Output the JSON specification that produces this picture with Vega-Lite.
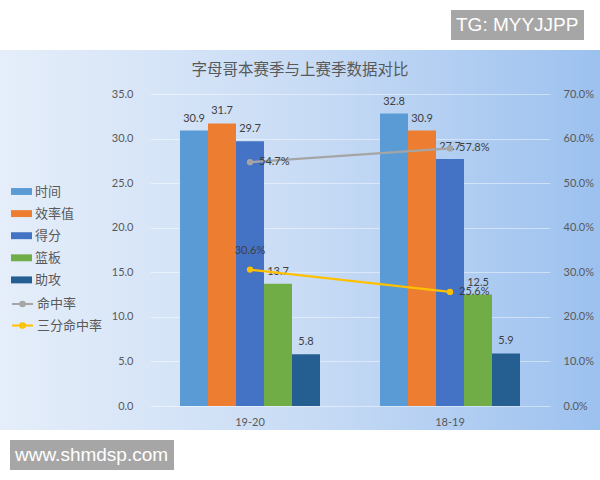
{
  "$schema": "https://vega.github.io/schema/vega-lite/v6.json",
  "width": 600,
  "height": 380,
  "autosize": {"type": "none"},
  "padding": {"left": 0, "top": 50, "right": 0, "bottom": 50},
  "background": "white",
  "view": {
    "stroke": null,
    "fill": {
      "gradient": "linear",
      "x1": 0, "y1": 0, "x2": 1, "y2": 0,
      "stops": [
        {"offset": 0, "color": "#e5eefa"},
        {"offset": 0.5, "color": "#c9dcf5"},
        {"offset": 1, "color": "#9cc1ef"}
      ]
    }
  },
  "title": {
    "text": "字母哥本赛季与上赛季数据对比",
    "anchor": "middle",
    "frame": "group",
    "orient": "top",
    "offset": 0,
    "dy": 75,
    "baseline": "middle",
    "font": "Noto Sans CJK SC",
    "fontSize": 15.5,
    "fontWeight": "normal",
    "color": "#595959"
  },
  "config": {"font": "Lato"},
  "datasets": {
    "bars": [
      {"season": "19-20", "series": "时间", "value": 30.9},
      {"season": "19-20", "series": "效率值", "value": 31.7},
      {"season": "19-20", "series": "得分", "value": 29.7},
      {"season": "19-20", "series": "篮板", "value": 13.7},
      {"season": "19-20", "series": "助攻", "value": 5.8},
      {"season": "18-19", "series": "时间", "value": 32.8},
      {"season": "18-19", "series": "效率值", "value": 30.9},
      {"season": "18-19", "series": "得分", "value": 27.7},
      {"season": "18-19", "series": "篮板", "value": 12.5},
      {"season": "18-19", "series": "助攻", "value": 5.9}
    ],
    "rates": [
      {"season": "19-20", "series": "命中率", "rate": 0.547},
      {"season": "18-19", "series": "命中率", "rate": 0.578},
      {"season": "19-20", "series": "三分命中率", "rate": 0.306},
      {"season": "18-19", "series": "三分命中率", "rate": 0.256}
    ]
  },
  "layer": [
    {
      "data": {"name": "bars"},
      "encoding": {
        "x": {
          "field": "season", "type": "nominal", "sort": ["19-20", "18-19"],
          "scale": {"range": [150, 550], "paddingInner": 0.3, "paddingOuter": 0.15},
          "axis": {"title": null, "orient": "bottom", "offset": -24, "domain": false, "ticks": false, "tickSize": 0, "labelPadding": 10, "labelAngle": 0, "labelFont": "Lato", "labelFontSize": 11, "labelColor": "#595959", "grid": false}
        },
        "xOffset": {"field": "series", "type": "nominal", "sort": ["时间", "效率值", "得分", "篮板", "助攻"]},
        "y": {
          "field": "value", "type": "quantitative",
          "scale": {"domain": [0, 35], "range": [356, 44], "nice": false},
          "axis": {"title": null, "orient": "left", "offset": -150, "values": [0, 5, 10, 15, 20, 25, 30, 35], "format": ".1f", "domain": false, "ticks": false, "tickSize": 0, "labelPadding": 17, "labelFont": "Lato", "labelFontSize": 11, "labelColor": "#595959", "grid": true, "gridColor": "#ffffff", "gridOpacity": 0.45, "gridWidth": 1}
        }
      },
      "layer": [
        {
          "mark": {"type": "bar"},
          "encoding": {
            "fill": {
              "field": "series", "type": "nominal",
              "scale": {"domain": ["时间", "效率值", "得分", "篮板", "助攻"], "range": ["#5b9bd5", "#ed7d31", "#4472c4", "#70ad47", "#255e91"]},
              "legend": {"title": null, "orient": "none", "legendX": 11, "legendY": 131, "direction": "vertical", "symbolType": "M-1,-0.33H1V0.33H-1Z", "symbolSize": 441, "symbolStrokeWidth": 0, "labelOffset": 3, "rowPadding": 4.1, "labelFont": "Noto Sans CJK SC", "labelFontSize": 13, "labelColor": "#595959", "padding": 0, "labelLimit": 200}
            }
          }
        },
        {
          "mark": {"type": "text", "dy": -12, "baseline": "middle", "fontSize": 11, "font": "Lato"},
          "encoding": {
            "text": {"field": "value", "type": "quantitative", "format": ".1f"},
            "color": {
              "datum": "www.shmdsp.com", "type": "nominal",
              "scale": {"range": ["#404040"]},
              "legend": {"title": null, "orient": "none", "legendX": 10, "legendY": 390, "fillColor": "#a6a6a6", "padding": 5, "symbolSize": 1, "symbolOpacity": 0, "symbolStrokeWidth": 0, "symbolOffset": 0, "labelOffset": -19, "labelFont": "Liberation Sans", "labelFontSize": 19, "labelColor": "#ffffff", "labelLimit": 300}
            }
          }
        }
      ]
    },
    {
      "data": {"name": "rates"},
      "encoding": {
        "x": {
          "field": "season", "type": "nominal", "sort": ["19-20", "18-19"],
          "scale": {"range": [150, 550], "paddingInner": 0.3, "paddingOuter": 0.15},
          "axis": {"title": null, "orient": "bottom", "offset": -24, "domain": false, "ticks": false, "tickSize": 0, "labelPadding": 10, "labelAngle": 0, "labelFont": "Lato", "labelFontSize": 11, "labelColor": "#595959", "grid": false}
        },
        "y": {
          "field": "rate", "type": "quantitative",
          "scale": {"domain": [0, 0.7], "range": [356, 44], "nice": false},
          "axis": {"title": null, "orient": "right", "offset": -50, "values": [0, 0.1, 0.2, 0.3, 0.4, 0.5, 0.6, 0.7], "format": ".1%", "domain": false, "ticks": false, "tickSize": 0, "labelPadding": 13, "labelFont": "Lato", "labelFontSize": 11, "labelColor": "#595959", "grid": false}
        }
      },
      "layer": [
        {
          "mark": {"type": "line", "strokeWidth": 2.25},
          "encoding": {
            "stroke": {
              "field": "series", "type": "nominal",
              "scale": {"domain": ["命中率", "三分命中率"], "range": ["#a5a5a5", "#ffc000"]},
              "legend": {"title": null, "orient": "none", "legendX": 11, "legendY": 242.5, "direction": "vertical", "symbolType": "M-1,0H1M-0.22,0A0.22,0.22,0,1,1,0.22,0A0.22,0.22,0,1,1,-0.22,0", "symbolSize": 441, "symbolStrokeWidth": 2, "labelOffset": 3, "rowPadding": 2.6, "labelFont": "Noto Sans CJK SC", "labelFontSize": 13, "labelColor": "#595959", "padding": 0, "labelLimit": 200}
            }
          }
        },
        {
          "mark": {"type": "point", "filled": false, "size": 8, "strokeWidth": 3.5, "opacity": 1},
          "encoding": {
            "stroke": {
              "field": "series", "type": "nominal",
              "scale": {"domain": ["命中率", "三分命中率"], "range": ["#a5a5a5", "#ffc000"]},
              "legend": {"title": null, "orient": "none", "legendX": 11, "legendY": 242.5, "direction": "vertical", "symbolType": "M-1,0H1M-0.22,0A0.22,0.22,0,1,1,0.22,0A0.22,0.22,0,1,1,-0.22,0", "symbolSize": 441, "symbolStrokeWidth": 2, "labelOffset": 3, "rowPadding": 2.6, "labelFont": "Noto Sans CJK SC", "labelFontSize": 13, "labelColor": "#595959", "padding": 0, "labelLimit": 200}
            }
          }
        },
        {
          "transform": [{"filter": "!(datum.series === '三分命中率' && datum.season === '19-20')"}],
          "mark": {"type": "text", "align": "left", "dx": 9, "baseline": "middle", "fontSize": 11, "font": "Lato"},
          "encoding": {
            "text": {"field": "rate", "type": "quantitative", "format": ".1%"},
            "color": {
              "datum": "TG: MYYJJPP", "type": "nominal",
              "scale": {"range": ["#404040"]},
              "legend": {"title": null, "orient": "none", "legendX": 451, "legendY": -40, "fillColor": "#a6a6a6", "padding": 5, "symbolSize": 1, "symbolOpacity": 0, "symbolStrokeWidth": 0, "symbolOffset": 0, "labelOffset": -19, "labelFont": "Liberation Sans", "labelFontSize": 19, "labelColor": "#ffffff", "labelLimit": 300}
            }
          }
        },
        {
          "transform": [{"filter": "datum.series === '三分命中率' && datum.season === '19-20'"}],
          "mark": {"type": "text", "align": "center", "dy": -19, "baseline": "middle", "fontSize": 11, "font": "Lato"},
          "encoding": {
            "text": {"field": "rate", "type": "quantitative", "format": ".1%"},
            "color": {
              "datum": "TG: MYYJJPP", "type": "nominal",
              "scale": {"range": ["#404040"]},
              "legend": {"title": null, "orient": "none", "legendX": 451, "legendY": -40, "fillColor": "#a6a6a6", "padding": 5, "symbolSize": 1, "symbolOpacity": 0, "symbolStrokeWidth": 0, "symbolOffset": 0, "labelOffset": -19, "labelFont": "Liberation Sans", "labelFontSize": 19, "labelColor": "#ffffff", "labelLimit": 300}
            }
          }
        }
      ]
    }
  ],
  "resolve": {"scale": {"y": "independent", "color": "independent"}}
}
